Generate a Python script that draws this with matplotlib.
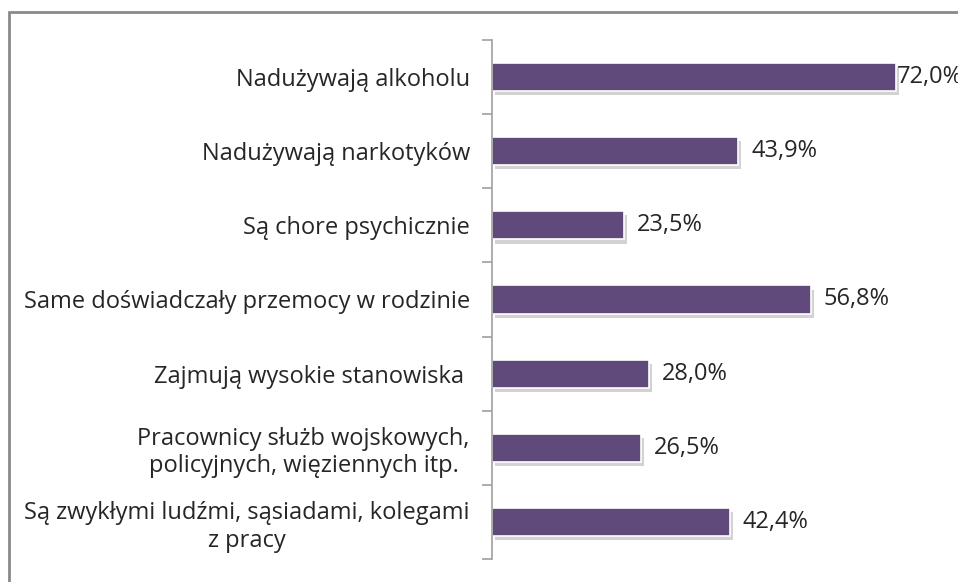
import matplotlib.pyplot as plt
import matplotlib.patheffects as pe
from matplotlib.patches import Rectangle

categories = [
    "Nadużywają alkoholu",
    "Nadużywają narkotyków",
    "Są chore psychicznie",
    "Same doświadczały przemocy w rodzinie",
    "Zajmują wysokie stanowiska ",
    "Pracownicy służb wojskowych,\npolicyjnych, więziennych itp.",
    "Są zwykłymi ludźmi, sąsiadami, kolegami\nz pracy",
]
values = [72.0, 43.9, 23.5, 56.8, 28.0, 26.5, 42.4]
value_labels = ["72,0%", "43,9%", "23,5%", "56,8%", "28,0%", "26,5%", "42,4%"]

plt.rcParams['font.family'] = ['Open Sans', 'DejaVu Sans']

W, H = 958, 582
fig = plt.figure(figsize=(W / 100, H / 100), dpi=100)

# frame around the chart (cropped on the right and bottom)
fig.patches.append(Rectangle((9 / W, -0.1), 1.2, 1 - 12 / H + 0.1, transform=fig.transFigure,
                             fill=False, edgecolor='#8a8a8a', linewidth=2))
fig.text(2 / W, 1 + 5 / H, "ludzi", family='Liberation Serif', fontsize=17, va='center', ha='left')

ax = fig.add_axes([492 / W, 1 - 559 / H, (941 - 492) / W, (559 - 40) / H])

pos = list(range(len(categories)))
bars = ax.barh(pos, values, height=0.38, color='#5f4a7b', edgecolor='white', linewidth=1.2)
for b in bars:
    b.set_path_effects([pe.SimplePatchShadow(offset=(2, -3), shadow_rgbFace='#909090', alpha=0.4),
                        pe.Normal()])

ax.set_xlim(0, 80)
ax.set_ylim(len(categories) - 0.5, -0.5)

for i, (v, lab) in enumerate(zip(values, value_labels)):
    off = 1 if i == 0 else 13
    ax.annotate(lab, (v, i), xytext=(off, 0), textcoords='offset pixels',
                va='center', ha='left', fontsize=17, color='#262626', annotation_clip=False)

ax.set_yticks(pos)
ax.set_yticklabels(categories, fontsize=17, color='#262626', multialignment='center', linespacing=1.2)
ax.tick_params(axis='y', which='major', length=0, pad=16)
ax.set_yticks([p - 0.5 for p in pos] + [len(pos) - 0.5], minor=True)
ax.tick_params(axis='y', which='minor', length=7, width=1.2, color='#a0a0a0', direction='out')
ax.set_xticks([])

for s in ['top', 'right', 'bottom']:
    ax.spines[s].set_visible(False)
ax.spines['left'].set_color('#a0a0a0')
ax.spines['left'].set_linewidth(1.2)

fig.savefig("out.png", dpi=100)
